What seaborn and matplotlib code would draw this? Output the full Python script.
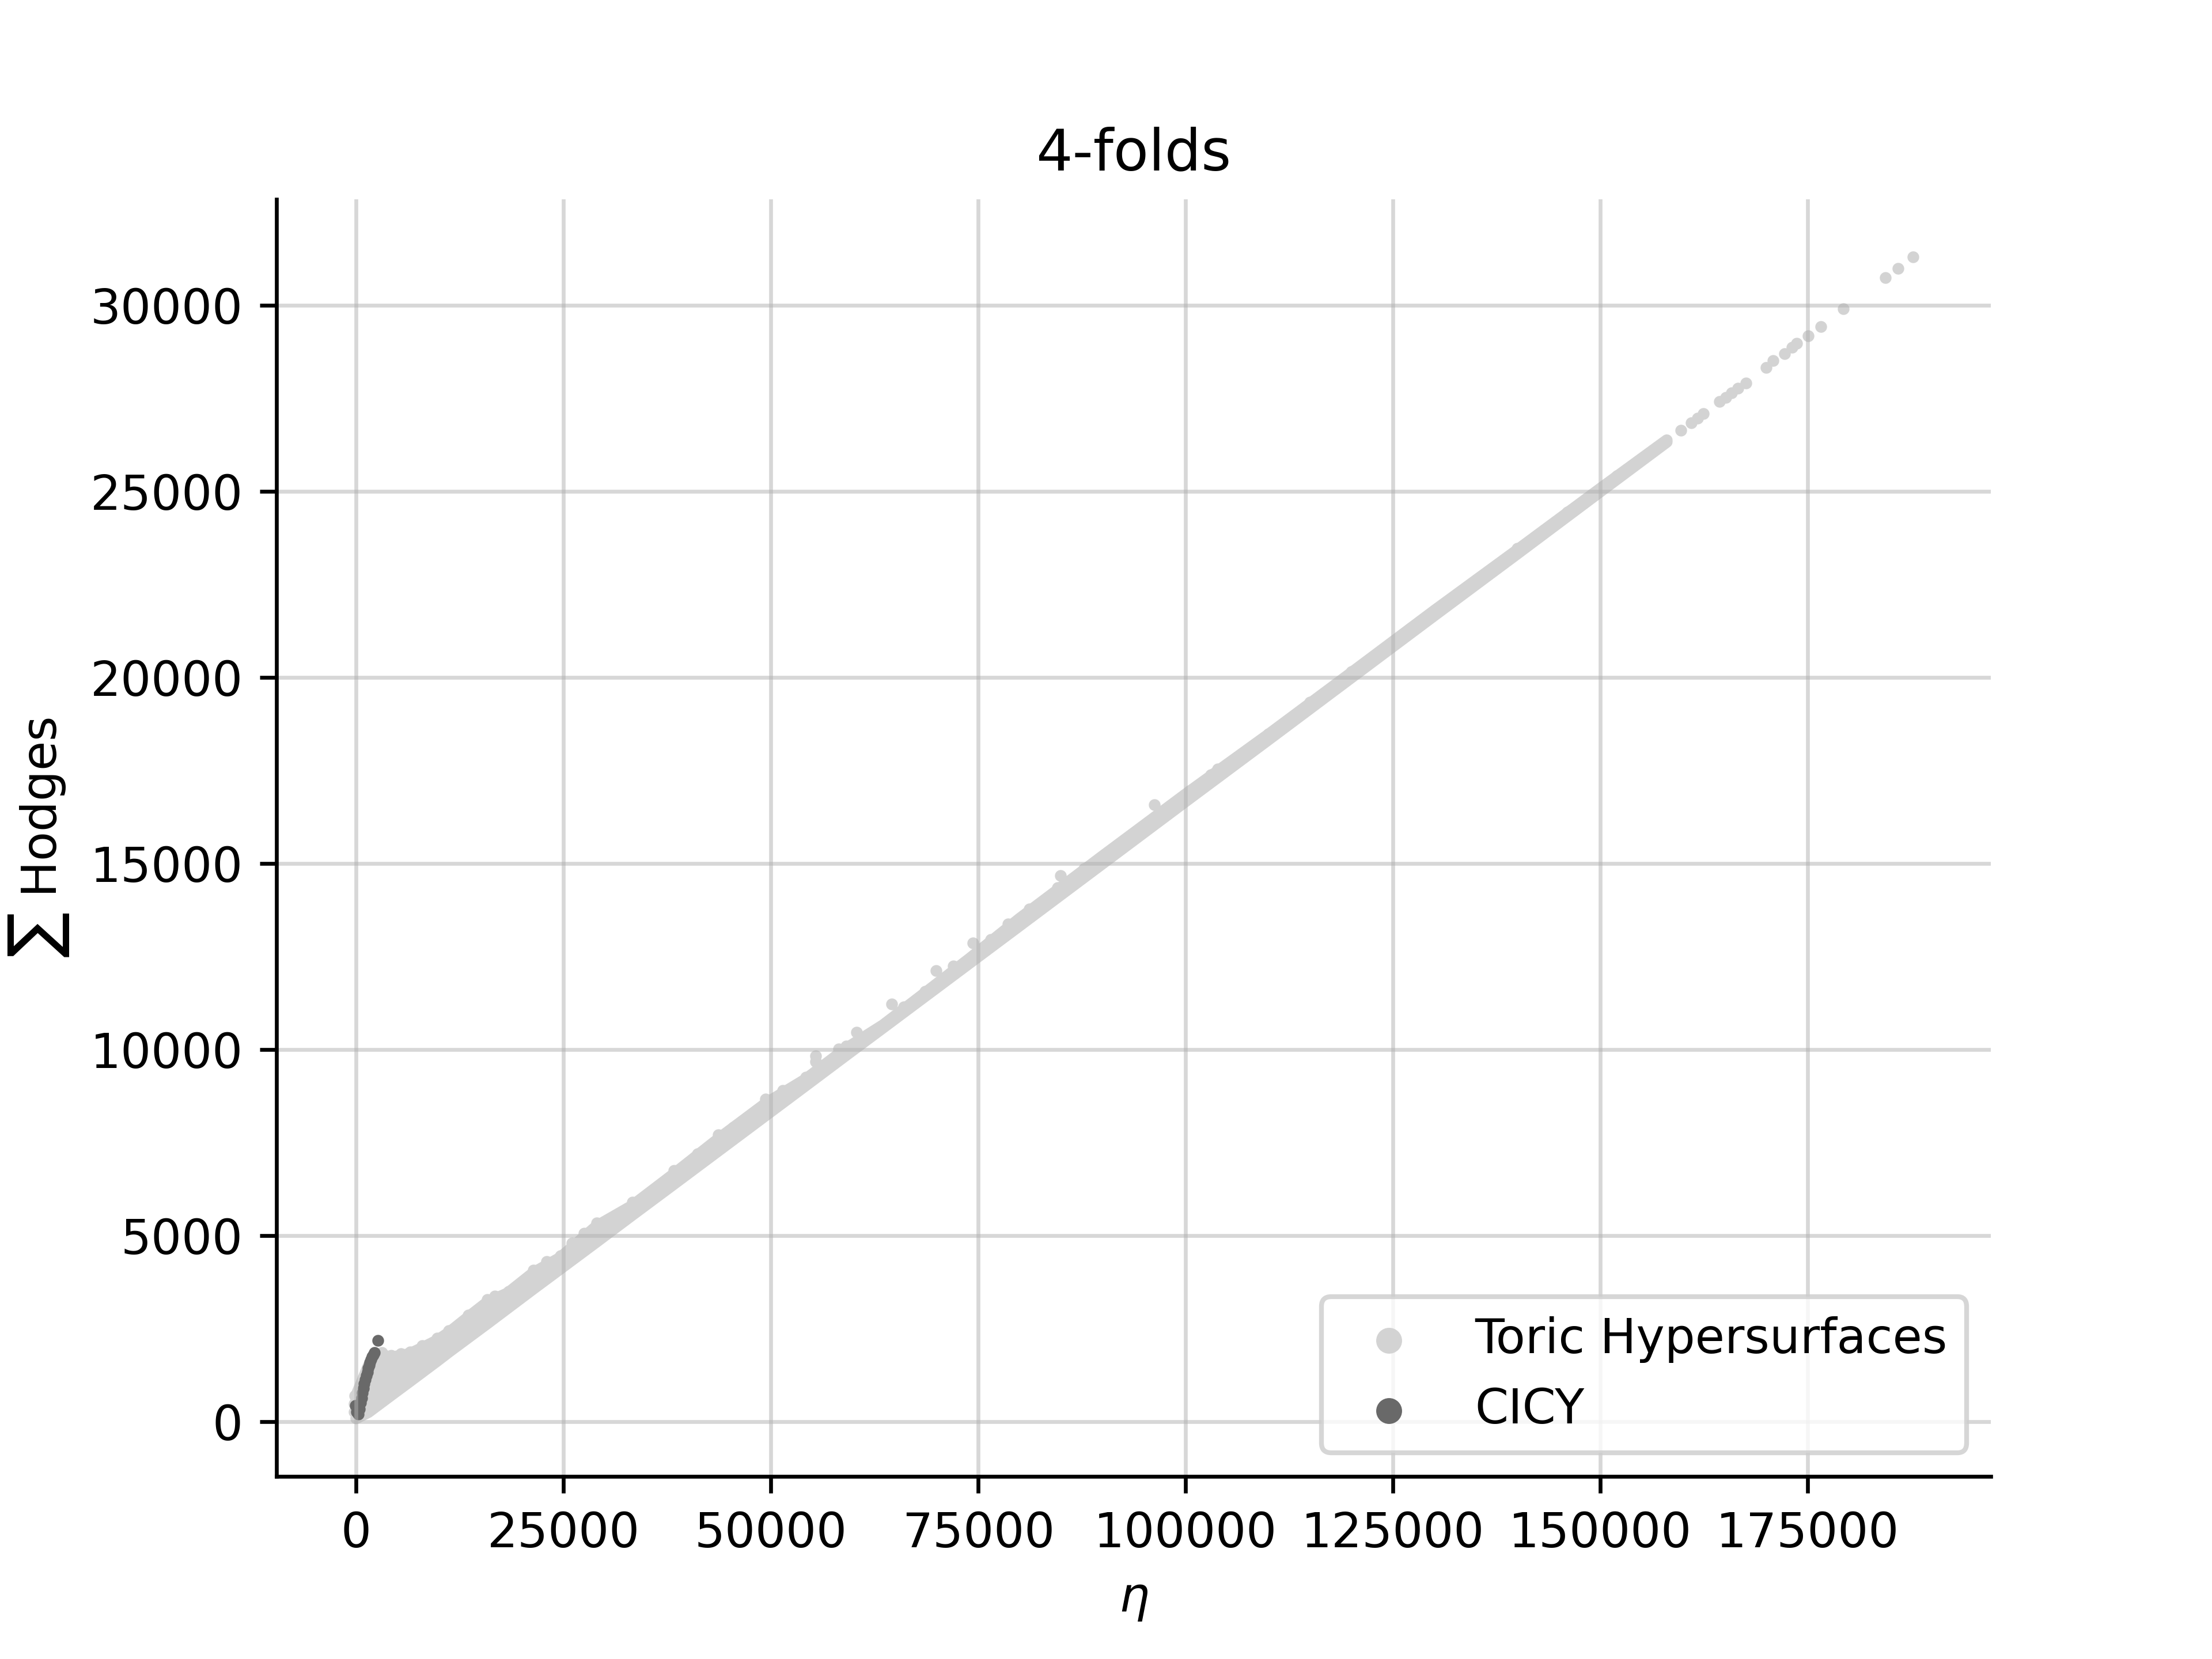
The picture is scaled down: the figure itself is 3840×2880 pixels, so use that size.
import numpy as np
import pandas as pd
import matplotlib
matplotlib.use('Agg')
import matplotlib.pyplot as plt
import seaborn as sns

# Values (eta, sum of Hodge numbers)
# toric hypersurfaces: dense band near the origin, given as lower / upper edge
band_eta = [0, 1500, 3000, 4200, 6500, 8000, 9800, 11200, 13500, 15800, 18300,
            21400, 24600, 29000, 33300, 38300, 43700, 49400, 54200, 59100, 63500,
            68600, 74000, 80000, 90000, 100000, 110000, 120000, 130000, 140000,
            150000, 158000]
band_low = [80, 250, 500, 700, 1080, 1330, 1630, 1870, 2250, 2630, 3050,
            3570, 4100, 4830, 5550, 6380, 7280, 8230, 9030, 9850, 10580,
            11430, 12330, 13330, 15000, 16670, 18330, 20000, 21670, 23330,
            25000, 26330]
band_high = [690, 1500, 1800, 1720, 1820, 1980, 2180, 2390, 2800, 3200, 3450,
             4000, 4400, 5250, 5800, 6650, 7600, 8550, 9200, 10030, 10650,
             11520, 12450, 13520, 15200, 16860, 18470, 20130, 21800, 23430,
             25080, 26380]

# toric hypersurfaces: individual points (edge bumps, outliers, sparse tail)
toric_eta = [-200, -200, -150, 150,
             3080, 4240, 5400, 6550, 7940, 9800, 11190, 13500, 15800, 16750,
             18370, 19760, 21380, 23000, 24630, 26000, 27500, 29030, 31220, 33310,
             35980, 38300, 41190, 43700, 45500, 47750, 49370, 51450, 52840, 54230,
             55410, 55410, 58170, 59100, 60310, 63490, 64550, 66040, 68590, 69930,
             72000, 74380, 76500, 78600, 81130, 84590, 84930, 87760, 89630, 92370,
             95250, 96200, 97270, 100500, 103030, 103890, 107360, 110000, 115000,
             120000, 127000, 133000, 140000, 146000, 152000,
             159730, 160950, 161680, 162410, 164360, 165100, 165830, 166550,
             167530, 169970, 170840, 172160, 173130, 173620, 175030, 176550,
             179270, 184340, 185850, 187660]
toric_hodges = [250, 480, 690, 120,
                1850, 1770, 1820, 1870, 2030, 2235, 2440, 2855, 3270, 3370,
                3500, 3680, 4070, 4300, 4460, 4790, 5050, 5330, 5510, 5900,
                6240, 6750, 7190, 7710, 7900, 8250, 8660, 8900, 9000, 9260,
                9826, 9666, 10006, 10084, 10465, 10650, 11215, 11140, 11556, 12120,
                12250, 12866, 12950, 13380, 13775, 14343, 14670, 14860, 15145, 15583,
                16074, 16575, 16409, 16950, 17390, 17545, 17958, 18480, 19330,
                20150, 21300, 22300, 23470, 24450, 25420,
                26643, 26844, 26974, 27092, 27413, 27531, 27650, 27767,
                27910, 28337, 28513, 28704, 28871, 28988, 29189, 29438,
                29913, 30743, 31003, 31299]

# CICY 4-folds
cicy_eta = [-50, 40, 300, 420, 535, 650, 765, 880, 994, 1110, 1230, 1345,
            1460, 1575, 1690, 1810, 1925, 2075, 2224, 2620]
cicy_hodges = [420, 260, 200, 330, 506, 635, 764, 893, 1022, 1125, 1228, 1332,
               1436, 1513, 1591, 1668, 1746, 1797, 1848, 2184]

toric = pd.DataFrame({'eta': toric_eta, 'hodges': toric_hodges})
cicy = pd.DataFrame({'eta': cicy_eta, 'hodges': cicy_hodges})

fig, ax = plt.subplots(figsize=(6.4, 4.8), dpi=600)

# dense part of the toric cloud
ax.fill_between(band_eta, band_low, band_high, color='lightgrey', linewidth=0, zorder=1)
ax.plot(band_eta, band_low, color='lightgrey', lw=2.4, solid_capstyle='round', zorder=1)
ax.plot(band_eta, band_high, color='lightgrey', lw=2.4, solid_capstyle='round', zorder=1)

sns.scatterplot(data=toric, x='eta', y='hodges', color='lightgrey', s=6,
                linewidth=0, label='Toric Hypersurfaces', ax=ax, zorder=1)
sns.scatterplot(data=cicy, x='eta', y='hodges', color='dimgrey', s=6,
                linewidth=0, label='CICY', ax=ax, zorder=1.2)

ax.grid(alpha=0.5)
ax.set_xlabel(r'$\eta$')
ax.set_ylabel(r'$\sum$ Hodges')
ax.set_title('4-folds')
ax.legend(loc='lower right', markerscale=2.2)
sns.despine(ax=ax)

fig.savefig('out.png', dpi=600)
